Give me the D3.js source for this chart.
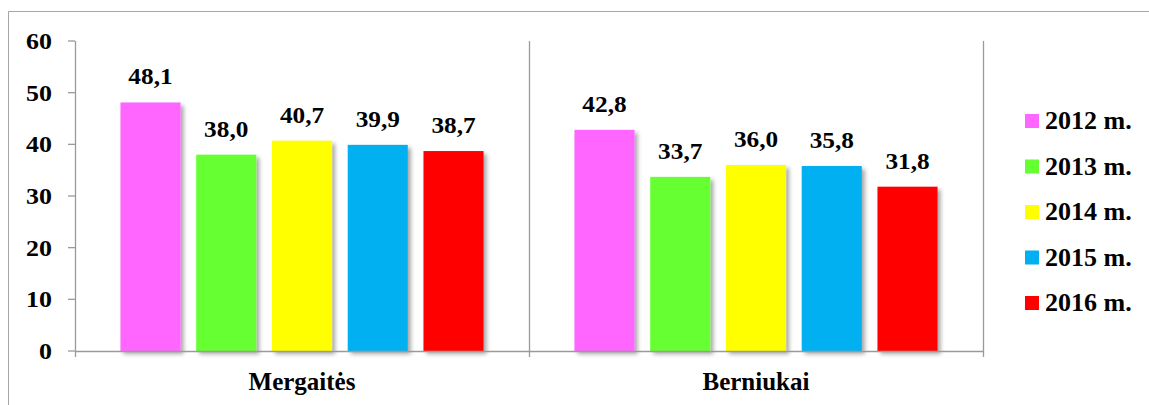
<!DOCTYPE html>
<html><head><meta charset="utf-8">
<script src="https://cdn.jsdelivr.net/npm/d3@7"></script>
</head><body style="margin:0">
<script>
const categories = ["Mergaitės", "Berniukai"];
const seriesNames = ["2012 m.", "2013 m.", "2014 m.", "2015 m.", "2016 m."];
const mergaites = [48.1, 38.0, 40.7, 39.9, 38.7];
const berniukai = [42.8, 33.7, 36.0, 35.8, 31.8];
const colors = ["#FF66FF", "#66FF33", "#FFFF00", "#00B0F0", "#FF0000"];
const yTicks = [0, 10, 20, 30, 40, 50, 60];

(function () {
const values = [mergaites, berniukai];
const W = 1149, H = 405;
const svg = d3.select("body").append("svg").attr("width", W).attr("height", H).style("display", "block");

const defs = svg.append("defs");
const f = defs.append("filter").attr("id", "sh").attr("x", "-20%").attr("y", "-20%").attr("width", "150%").attr("height", "150%");
f.append("feDropShadow").attr("dx", 3).attr("dy", 3).attr("stdDeviation", 2).attr("flood-color", "#000").attr("flood-opacity", 0.35);

svg.append("path").attr("d", "M8.5,405V11.5H1149").attr("fill", "none").attr("stroke", "#a6a6a6").attr("stroke-width", 1);

const pL = 75, pR = 983, pT = 41, pB = 351;
const x0 = d3.scaleBand().domain(categories).range([pL, pR]).padding(0);
const x1 = d3.scaleBand().domain(seriesNames).range([0, x0.bandwidth()]).paddingInner(0.207).paddingOuter(0.6);
const y = d3.scaleLinear().domain([0, 60]).range([pB, pT]);

function txt(sel, size) {
  return sel.attr("font-family", "Tinos, 'Nimbus Roman', FreeSerif, 'Liberation Serif', serif")
    .attr("font-weight", "bold").attr("font-size", size);
}

const bounds = [pL].concat(categories.map(c => x0(c) + x0.bandwidth()));
svg.selectAll(".vb").data(bounds).join("line")
  .attr("x1", d => Math.round(d) + 0.5).attr("x2", d => Math.round(d) + 0.5)
  .attr("y1", pT).attr("y2", pB + 6)
  .attr("stroke", "#9a9a9a").attr("stroke-width", 1.3);

svg.selectAll(".yt").data(yTicks).join("line")
  .attr("x1", pL - 7).attr("x2", pL).attr("y1", d => y(d)).attr("y2", d => y(d))
  .attr("stroke", "#9a9a9a").attr("stroke-width", 1.3);
txt(svg.selectAll(".yl").data(yTicks).join("text"), 24)
  .attr("transform", d => `translate(52,${y(d) + 8}) scale(1.08,1)`)
  .attr("text-anchor", "end").text(d => d);

const groups = svg.selectAll(".g").data(categories).join("g")
  .attr("transform", c => `translate(${x0(c)},0)`);
groups.selectAll("rect").data((c, i) => values[i].map((v, j) => ({v, s: seriesNames[j], j})))
  .join("rect")
  .attr("x", d => x1(d.s)).attr("width", x1.bandwidth())
  .attr("y", d => y(d.v)).attr("height", d => pB - y(d.v))
  .attr("fill", d => colors[d.j]).attr("filter", "url(#sh)");
txt(groups.selectAll("text").data((c, i) => values[i].map((v, j) => ({v, s: seriesNames[j], j})))
  .join("text"), 23)
  .attr("transform", d => `translate(${x1(d.s) + x1.bandwidth() / 2},${y(d.v) - 18}) scale(1.1,1)`)
  .attr("text-anchor", "middle")
  .text(d => d.v.toFixed(1).replace(".", ","));

svg.append("line").attr("x1", pL).attr("x2", pR).attr("y1", pB + 0.5).attr("y2", pB + 0.5)
  .attr("stroke", "#9a9a9a").attr("stroke-width", 1.6);

txt(svg.selectAll(".cl").data(categories).join("text"), 25)
  .attr("x", c => x0(c) + x0.bandwidth() / 2).attr("y", 390)
  .attr("text-anchor", "middle").text(c => c);

const leg = svg.selectAll(".lg").data(seriesNames).join("g")
  .attr("transform", (d, i) => `translate(1025,${121 + i * 45.5})`);
leg.append("rect").attr("x", 0).attr("y", -7).attr("width", 14).attr("height", 14).attr("fill", (d, i) => colors[i]);
txt(leg.append("text"), 26).attr("x", 20).attr("y", 8).text(d => d);
})();
</script>
</body></html>
